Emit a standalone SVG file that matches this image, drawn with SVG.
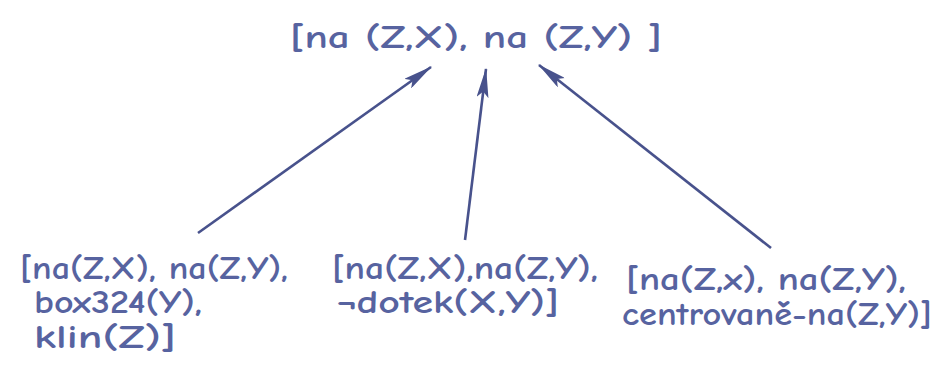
<svg xmlns="http://www.w3.org/2000/svg" width="952" height="370" viewBox="0 0 952 370">
<defs>
<style>
text{font-family:"Comic Neue","DejaVu Sans","Liberation Sans",sans-serif;fill:#5763a0;font-size:32px;font-weight:bold;}
.c{stroke:#48528c;stroke-width:2.6;fill:none;}
</style>
<marker id="ah" viewBox="0 0 25 10" refX="24" refY="5" markerWidth="11.5" markerHeight="4.6" markerUnits="strokeWidth" orient="auto">
<path d="M0,0 L25,5 L0,10 L5,5 Z" fill="#48528c"/>
</marker>
</defs>
<rect width="952" height="370" fill="#ffffff"/>
<g id="top">
<text x="290" y="48" textLength="372" lengthAdjust="spacingAndGlyphs" font-size="34">[na (Z,X), na (Z,Y) ]</text>
</g>
<g id="left">
<text x="20" y="279" textLength="268" lengthAdjust="spacingAndGlyphs">[na(Z,X), na(Z,Y),</text>
<text x="34" y="313" textLength="168" lengthAdjust="spacingAndGlyphs">box324(Y),</text>
<text x="34" y="348" textLength="142" lengthAdjust="spacingAndGlyphs">klin(Z)]</text>
</g>
<g id="middle">
<text x="332" y="279" textLength="266" lengthAdjust="spacingAndGlyphs">[na(Z,X),na(Z,Y),</text>
<text x="337" y="313" textLength="222" lengthAdjust="spacingAndGlyphs">¬dotek(X,Y)]</text>
</g>
<g id="right">
<text x="626" y="290" textLength="280" lengthAdjust="spacingAndGlyphs">[na(Z,x), na(Z,Y),</text>
<text x="622" y="325" textLength="310" lengthAdjust="spacingAndGlyphs">centrovaně-na(Z,Y)]</text>
</g>
<g id="connectors">
<line class="c" x1="198" y1="233" x2="431" y2="67" marker-end="url(#ah)"/>
<line class="c" x1="465" y1="240" x2="486" y2="69" marker-end="url(#ah)"/>
<line class="c" x1="771" y1="248" x2="539" y2="65" marker-end="url(#ah)"/>
</g>
</svg>
